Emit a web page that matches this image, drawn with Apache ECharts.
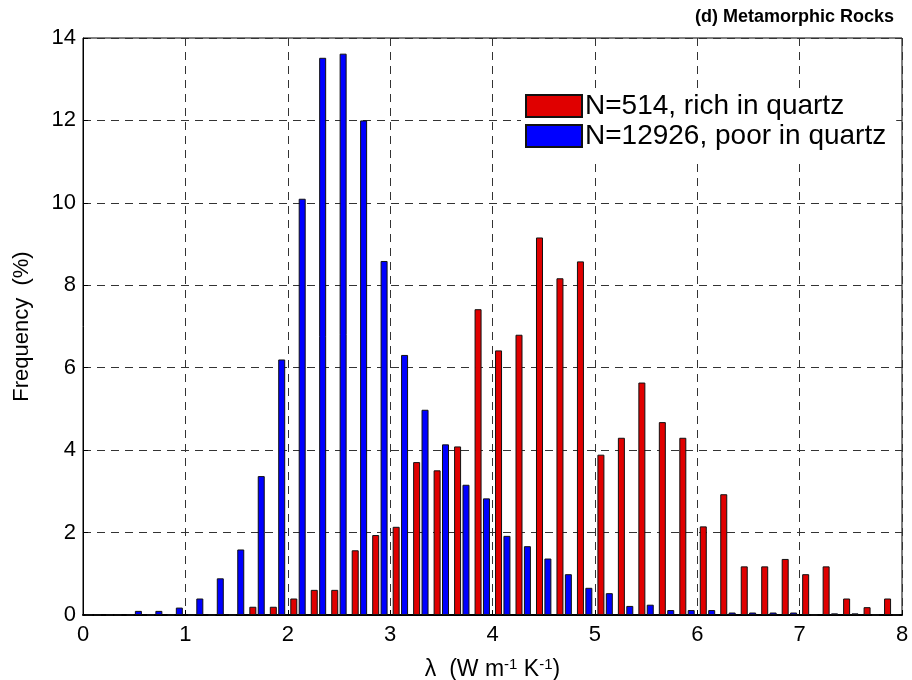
<!DOCTYPE html>
<html>
<head>
<meta charset="utf-8">
<script src="https://cdn.jsdelivr.net/npm/echarts@6/dist/echarts.min.js"></script>
<style>html,body{margin:0;padding:0;background:#fff}#c{width:912px;height:680px}</style>
</head>
<body>
<div id="c"></div>
<script>
// Bin centres (W m-1 K-1)
const binCenters = [0.1,0.3,0.5,0.7,0.9,1.1,1.3,1.5,1.7,1.9,2.1,2.3,2.5,2.7,2.9,3.1,3.3,3.5,3.7,3.9,
                    4.1,4.3,4.5,4.7,4.9,5.1,5.3,5.5,5.7,5.9,6.1,6.3,6.5,6.7,6.9,7.1,7.3,7.5,7.7,7.9];
// Frequency (%) - rich in quartz (N=514)
const richQuartz = [0,0,0,0,0,0,0,0,0.2,0.2,0.4,0.61,0.61,1.57,1.94,2.14,3.71,3.51,4.09,7.42,
                    6.42,6.8,9.16,8.17,8.58,3.89,4.3,5.64,4.68,4.3,2.15,2.93,1.18,1.18,1.36,0.99,1.18,0.4,0.19,0.4];
// Frequency (%) - poor in quartz (N=12926)
const poorQuartz = [0,0,0.1,0.1,0.18,0.4,0.89,1.59,3.37,6.2,10.1,13.52,13.62,12.0,8.59,6.31,4.98,4.14,3.16,2.83,
                    1.92,1.67,1.37,0.99,0.66,0.53,0.22,0.25,0.12,0.12,0.12,0.06,0.06,0.06,0.06,0,0.04,0.04,0,0];
const seriesNames = ['N=514, rich in quartz', 'N=12926, poor in quartz'];
const xTicks = [0,1,2,3,4,5,6,7,8];
const yTicks = [0,2,4,6,8,10,12,14];

const FONT = 'Liberation Sans, Arial, Helvetica, sans-serif';
const chart = echarts.init(document.getElementById('c'), null, {renderer: 'canvas'});

function pairs(vals) { return binCenters.map((x, i) => [x, vals[i]]); }

chart.setOption({
  animation: false,
  backgroundColor: '#fff',
  textStyle: {fontFamily: FONT},
  title: {
    text: '(d) Metamorphic Rocks',
    right: 13, top: 3,
    textStyle: {fontFamily: FONT, fontSize: 18, fontWeight: 'bold', color: '#000'}
  },
  grid: {
    left: 83, right: 10, top: 38, bottom: 65,
    outerBoundsMode: 'none', containLabel: false,
    show: true, borderColor: '#000', borderWidth: 1, backgroundColor: 'transparent'
  },
  legend: {
    orient: 'vertical',
    left: 521, top: 88,
    backgroundColor: '#fff',
    padding: [4, 10, 8, 4],
    itemWidth: 56, itemHeight: 22, itemGap: 2,
    icon: 'rect',
    textStyle: {fontFamily: FONT, fontSize: 28, color: '#000', padding: [0, 0, 0, -2]},
    data: seriesNames
  },
  xAxis: {
    type: 'value', min: 0, max: 8, interval: 1,
    name: 'λ  (W m{sup|-1} K{sup|-1})',
    nameLocation: 'middle', nameGap: 42,
    nameTextStyle: {
      fontFamily: FONT, fontSize: 23, color: '#000',
      rich: {sup: {fontFamily: FONT, fontSize: 15, color: '#000', verticalAlign: 'top', padding: [0, 0, 10, 0]}}
    },
    axisLine: {show: true, lineStyle: {color: '#000', width: 2}},
    axisTick: {show: true, inside: true, length: 5, lineStyle: {color: '#000'}},
    axisLabel: {fontFamily: FONT, fontSize: 22, color: '#000', margin: 9,
                formatter: v => xTicks.includes(v) ? String(v) : ''},
    splitLine: {show: true, lineStyle: {color: '#333', type: [8, 6], width: 1}}
  },
  yAxis: {
    type: 'value', min: 0, max: 14, interval: 2,
    name: 'Frequency  (%)',
    nameLocation: 'middle', nameGap: 50, nameRotate: 90,
    nameTextStyle: {fontFamily: FONT, fontSize: 22, color: '#000'},
    axisLine: {show: true, lineStyle: {color: '#000', width: 1}},
    axisTick: {show: true, inside: true, length: 5, lineStyle: {color: '#000'}},
    axisLabel: {fontFamily: FONT, fontSize: 22, color: '#000', margin: 7,
                formatter: v => yTicks.includes(v) ? String(v) : ''},
    splitLine: {show: true, lineStyle: {color: '#333', type: [8, 6], width: 1}}
  },
  series: [
    {
      name: seriesNames[0], type: 'bar', barWidth: 7, barGap: '20%',
      itemStyle: {color: '#e00000', borderColor: '#111', borderWidth: 1},
      data: pairs(richQuartz)
    },
    {
      name: seriesNames[1], type: 'bar', barWidth: 7, barGap: '20%',
      itemStyle: {color: '#0000ff', borderColor: '#111', borderWidth: 1},
      data: pairs(poorQuartz)
    }
  ]
});
</script>
</body>
</html>
